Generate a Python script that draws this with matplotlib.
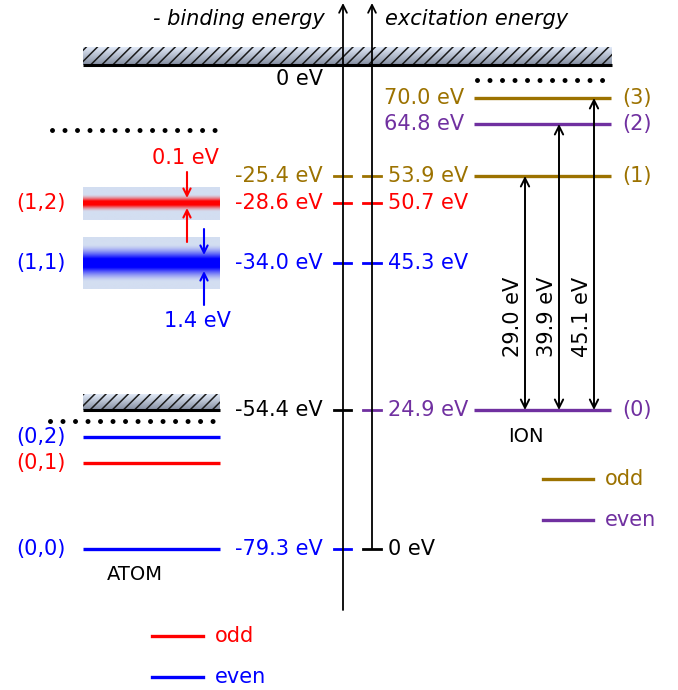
"""Energy level scheme: atom (binding energy) vs ion (excitation energy)."""

import numpy as np
import matplotlib
matplotlib.use("Agg")
import matplotlib.pyplot as plt
from matplotlib.colors import to_rgb
from matplotlib.patches import Rectangle, FancyArrowPatch

plt.rcParams["font.family"] = ["DejaVu Sans"]
plt.rcParams["hatch.linewidth"] = 1.1

OLIVE = "#9c7200"
PURPLE = "#7030a0"
RED = "#ff0000"
BLUE = "#0000ff"
BAND_BG = "#d3def1"

# ---- data -------------------------------------------------------------
atom_states = ["(0,0)", "(0,1)", "(0,2)", "(1,1)", "(1,2)"]
atom_parity = ["even", "odd", "even", "even", "odd"]
atom_widths = {"(1,1)": "1.4 eV", "(1,2)": "0.1 eV"}

ion_states = ["(0)", "(1)", "(2)", "(3)"]
ion_parity = ["even", "odd", "even", "odd"]
ion_excitation = [24.9, 53.9, 64.8, 70.0]          # eV, above atom ground state
transition_energy = [29.0, 39.9, 45.1]              # ion (0) -> (1), (2), (3)

# axis tick labels: (value, row it sits on, colour)
binding_ticks = [-25.4, -28.6, -34.0, -54.4, -79.3]
binding_rows = ["ion(1)", "(1,2)", "(1,1)", "ion(0)", "(0,0)"]
binding_colors = [OLIVE, RED, BLUE, "black", BLUE]
excitation_ticks = [53.9, 50.7, 45.3, 24.9, 0.0]
excitation_rows = ["ion(1)", "(1,2)", "(1,1)", "ion(0)", "(0,0)"]
excitation_colors = [OLIVE, RED, BLUE, PURPLE, "black"]

# ---- schematic layout (diagram units = pixels, y downwards) -----------
ROW_Y = {"(0,0)": 549, "(0,1)": 463, "(0,2)": 437, "(1,1)": 263, "(1,2)": 203,
         "ion(0)": 410, "ion(1)": 176, "ion(2)": 124, "ion(3)": 98,
         "vacuum": 65, "threshold": 410}
ATOM_X = (83, 220)
ION_X = (474, 611)
AX_L, AX_R = 343, 372
FS = 15

PARITY_ATOM = {"odd": RED, "even": BLUE}
PARITY_ION = {"odd": OLIVE, "even": PURPLE}

fig = plt.figure(figsize=(6.78, 6.90), dpi=100)
ax = fig.add_axes([0, 0, 1, 1])
ax.set_xlim(0, 678)
ax.set_ylim(690, 0)
ax.axis("off")


def arrow(x0, y0, x1, y1, color="black", style="->", lw=1.4, ms=14):
    ax.add_patch(FancyArrowPatch((x0, y0), (x1, y1), arrowstyle=style,
                                 mutation_scale=ms, color=color, lw=lw,
                                 shrinkA=0, shrinkB=0, zorder=5))


def hatched_bar(x0, x1, y_bot, h):
    grad = np.linspace(0, 1, 50)[:, None, None]
    top = np.array(to_rgb("#e2eaf8"))
    bot = np.array(to_rgb("#838da0"))
    img = top * (1 - grad) + bot * grad
    ax.imshow(np.repeat(img, 2, axis=1), extent=(x0, x1, y_bot, y_bot - h),
              aspect="auto", interpolation="bilinear", zorder=1)
    ax.add_patch(Rectangle((x0, y_bot - h), x1 - x0, h, fill=False,
                           hatch="///", edgecolor="#1a1a1a", lw=0, zorder=2))
    ax.plot([x0, x1], [y_bot, y_bot], color="black", lw=2.2,
            solid_capstyle="butt", zorder=3)


def blurred_band(x0, x1, y_top, y_bot, yc, color, core, fade):
    ys = np.linspace(y_top, y_bot, 120)
    d = np.abs(ys - yc)
    a = np.clip(1 - (d - core) / fade, 0, 1) ** 1.5
    a[d <= core] = 1
    bg = np.array(to_rgb(BAND_BG))
    fg = np.array(to_rgb(color))
    img = bg[None, :] * (1 - a[:, None]) + fg[None, :] * a[:, None]
    img = np.repeat(img[:, None, :], 2, axis=1)
    ax.imshow(img, extent=(x0, x1, y_bot, y_top), aspect="auto",
              interpolation="bilinear", zorder=1)


def dots(x0, x1, y):
    ax.plot([x0, x1], [y, y], color="black", lw=3.6,
            linestyle=(0, (0.001, 2.5)), dash_capstyle="round", zorder=3)


# ---- energy axes ------------------------------------------------------
arrow(AX_L, 610, AX_L, 3, lw=1.3)
arrow(AX_R, ROW_Y["(0,0)"], AX_R, 3, lw=1.3)
ax.text(AX_L - 18, 19, "- binding energy", ha="right", va="center",
        fontsize=FS, style="italic")
ax.text(AX_R + 13, 19, "excitation energy", ha="left", va="center",
        fontsize=FS, style="italic")

# vacuum level
hatched_bar(83, 612, ROW_Y["vacuum"], 18)
ax.text(323, 79, "0 eV", ha="right", va="center", fontsize=FS)

for val, row, col in zip(binding_ticks, binding_rows, binding_colors):
    y = ROW_Y[row]
    ax.plot([AX_L - 9, AX_L + 8], [y, y], color=col, lw=2, zorder=4)
    ax.text(323, y, f"{val:.1f} eV", ha="right", va="center",
            fontsize=FS, color=col)

for val, row, col in zip(excitation_ticks, excitation_rows, excitation_colors):
    y = ROW_Y[row]
    ax.plot([AX_R - 9, AX_R + 9], [y, y], color=col, lw=2, zorder=4)
    txt = "0 eV" if val == 0 else f"{val:.1f} eV"
    ax.text(AX_R + 16, y, txt, ha="left", va="center", fontsize=FS, color=col)

# ---- atom -------------------------------------------------------------
dots(52, 218, 130)
hatched_bar(ATOM_X[0], ATOM_X[1], ROW_Y["threshold"], 16)
dots(50, 215, 421)

for st, par in zip(atom_states, atom_parity):
    y = ROW_Y[st]
    col = PARITY_ATOM[par]
    if st == "(1,2)":
        blurred_band(ATOM_X[0], ATOM_X[1], 187, 220, y, col, 2.0, 6.5)
    elif st == "(1,1)":
        blurred_band(ATOM_X[0], ATOM_X[1], 237, 289, y, col, 4.5, 14)
    else:
        ax.plot(ATOM_X, [y, y], color=col, lw=2.4, solid_capstyle="butt")
    ax.text(66, y, st, ha="right", va="center", fontsize=FS, color=col)

# widths of the autoionizing levels
arrow(187, 172, 187, 198, color=RED, lw=1.5, ms=13)
arrow(187, 242, 187, 208, color=RED, lw=1.5, ms=13)
ax.text(185, 158, atom_widths["(1,2)"], ha="center", va="center",
        fontsize=FS, color=RED)
arrow(204, 229, 204, 255, color=BLUE, lw=1.5, ms=13)
arrow(204, 305, 204, 271, color=BLUE, lw=1.5, ms=13)
ax.text(197, 321, atom_widths["(1,1)"], ha="center", va="center",
        fontsize=FS, color=BLUE)

ax.text(135, 574, "ATOM", ha="center", va="center", fontsize=FS - 1)

# ---- ion --------------------------------------------------------------
dots(477, 614, 80)
for st, par, e in zip(ion_states, ion_parity, ion_excitation):
    y = ROW_Y["ion" + st]
    col = PARITY_ION[par]
    ax.plot(ION_X, [y, y], color=col, lw=2.4, solid_capstyle="butt")
    ax.text(622, y, st, ha="left", va="center", fontsize=FS, color=col)
    if st in ("(2)", "(3)"):
        ax.text(464, y, f"{e:.1f} eV", ha="right", va="center",
                fontsize=FS, color=col)

arrow_x = [525, 559, 594]
y0 = ROW_Y["ion(0)"]
for xa, de, st in zip(arrow_x, transition_energy, ion_states[1:]):
    arrow(xa, y0, xa, ROW_Y["ion" + st], style="<->", lw=1.4, ms=15)
    ax.text(xa - 12, 317, f"{de:.1f} eV", rotation=90, ha="center",
            va="center", fontsize=FS)

ax.text(526, 436, "ION", ha="center", va="center", fontsize=FS - 1)

# ---- legends ----------------------------------------------------------
for i, par in enumerate(["odd", "even"]):
    yl = 636 + 41 * i
    ax.plot([152, 203], [yl, yl], color=PARITY_ATOM[par], lw=2.4)
    ax.text(215, yl, par, ha="left", va="center", fontsize=FS,
            color=PARITY_ATOM[par])
    yi = 479 + 41 * i
    ax.plot([543, 593], [yi, yi], color=PARITY_ION[par], lw=2.4)
    ax.text(605, yi, par, ha="left", va="center", fontsize=FS,
            color=PARITY_ION[par])

fig.savefig("out.png", dpi=100)
